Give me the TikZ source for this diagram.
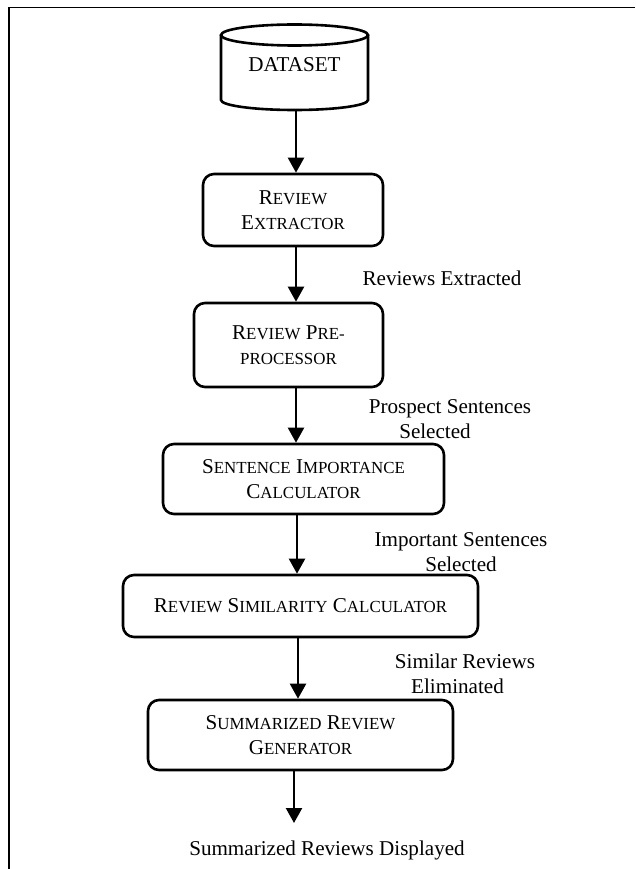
\documentclass[tikz,border=0pt]{standalone}
\usepackage{fontspec}
\setmainfont{Liberation Serif}
\usetikzlibrary{arrows.meta}
\newcommand\smc[1]{{\fontsize{16.9}{25}\selectfont #1}}
\begin{document}
\begin{tikzpicture}[x=1pt,y=-1pt,
  every node/.style={font=\fontsize{21.1}{25}\selectfont},
  procbox/.style={draw, line width=2.6pt, rounded corners=11pt, inner sep=0pt, align=center},
  flow/.style={line width=2.2pt, -{Triangle[width=16pt,length=15pt]}},
  lbl/.style={align=center, inner sep=0pt},
  framel/.style={line width=1.4pt},
  cyl/.style={line width=2.6pt}]
\useasboundingbox (0,0) rectangle (635,869);
% frame (top and left edges only)
\draw[framel] (8,7.5) -- (635,7.5);
\draw[framel] (9,7) -- (9,869);
% dataset cylinder
\draw[cyl] (294.5,35) ellipse [x radius=73.5pt, y radius=10.5pt];
\draw[cyl] (221,35) -- (221,100) arc[start angle=180, end angle=360, x radius=73.5pt, y radius=10pt] -- (368,35);
\node[inner sep=0pt] (ds) at (294.5,65) {DATASET};
\coordinate (dsb) at (296,110);
% process boxes
\node[procbox, minimum width=180pt, minimum height=72pt] (b1) at (293,210)
  {R\smc{EVIEW}\\E\smc{XTRACTOR}};
\node[procbox, minimum width=189pt, minimum height=84pt] (b2) at (288.5,345)
  {R\smc{EVIEW} P\smc{RE-}\\\smc{PROCESSOR}};
\node[procbox, minimum width=281pt, minimum height=70pt] (b3) at (303.5,479)
  {S\smc{ENTENCE} I\smc{MPORTANCE}\\C\smc{ALCULATOR}};
\node[procbox, minimum width=355pt, minimum height=62pt] (b4) at (300.5,606)
  {R\smc{EVIEW} S\smc{IMILARITY} C\smc{ALCULATOR}};
\node[procbox, minimum width=305pt, minimum height=70pt] (b5) at (300.5,735)
  {S\smc{UMMARIZED} R\smc{EVIEW}\\G\smc{ENERATOR}};
\coordinate (outp) at (294,823);
% arrow columns
\coordinate (x1) at (296,0);
\coordinate (x2) at (296,0);
\coordinate (x3) at (296,0);
\coordinate (x4) at (297,0);
\coordinate (x5) at (298,0);
\coordinate (x6) at (294,0);
% connectors
\draw[flow] (dsb) -- (b1.north -| x1);
\draw[flow] (b1.south -| x2) -- (b2.north -| x2);
\draw[flow] (b2.south -| x3) -- (b3.north -| x3);
\draw[flow] (b3.south -| x4) -- (b4.north -| x4);
\draw[flow] (b4.south -| x5) -- (b5.north -| x5);
\draw[flow] (b5.south -| x6) -- (outp);
% labels
\node[lbl, anchor=base] (l1) at (442,285) {Reviews Extracted};
\node[lbl] (l2) at (450,419.5) {Prospect Sentences\\Selected\hspace*{30pt}};
\node[lbl] (l3) at (461,552) {Important Sentences\\Selected};
\node[lbl] (l4) at (465,673.5) {Similar Reviews\\Eliminated\hspace*{15pt}};
\node[lbl, anchor=base] (l5) at (327,855) {Summarized Reviews Displayed};
\end{tikzpicture}
\end{document}
